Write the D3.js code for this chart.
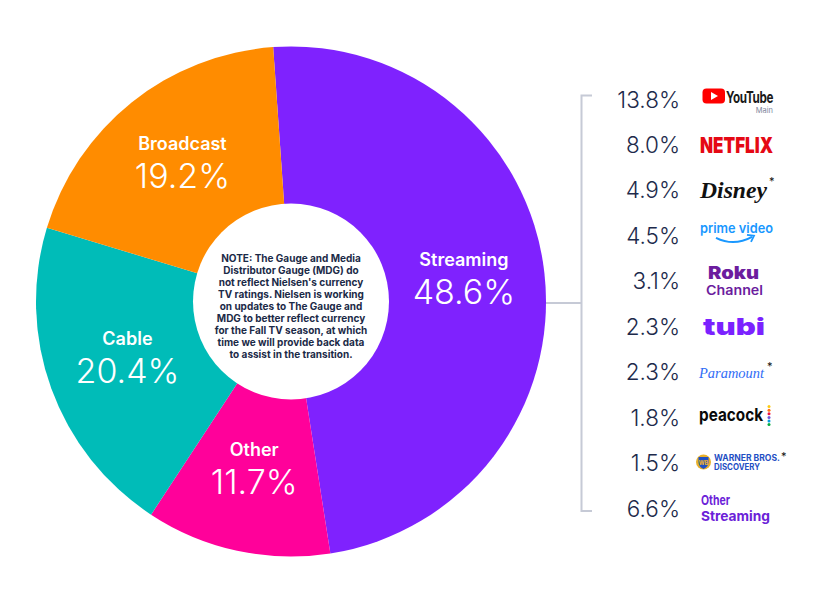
<!DOCTYPE html>
<html lang="en">
<head>
<meta charset="utf-8">
<title>The Gauge</title>
<script src="https://cdn.jsdelivr.net/npm/d3@7"></script>
<style>
  body { margin: 0; background: #fff; }
  svg { display: block; font-family: Inter, "Noto Sans", sans-serif; }
</style>
</head>
<body>
<div id="chart"></div>
<script>
// share of TV viewing by category
var categories = ["Streaming", "Other", "Cable", "Broadcast"];
var shares = [48.6, 11.7, 20.4, 19.2];
var sliceColors = ["#7f22fe", "#ff019a", "#00bcb8", "#ff8c00"];

// streaming breakdown (right column)
var services = ["YouTube", "Netflix", "Disney", "Prime Video", "Roku Channel",
                "Tubi", "Paramount", "Peacock", "Warner Bros. Discovery", "Other Streaming"];
var serviceShares = [13.8, 8.0, 4.9, 4.5, 3.1, 2.3, 2.3, 1.8, 1.5, 6.6];

var noteLines = [
  "NOTE: The Gauge and Media",
  "Distributor Gauge (MDG) do",
  "not reflect Nielsen's currency",
  "TV ratings. Nielsen is working",
  "on updates to The Gauge and",
  "MDG to better reflect currency",
  "for the Fall TV season, at which",
  "time we will provide back data",
  "to assist in the transition."
];

var width = 822, height = 610;
var cx = 291, cy = 301.5;
var outerR = 255, innerR = 98, labelR = 174;

var svg = d3.select("#chart").append("svg")
  .attr("width", width)
  .attr("height", height);

var pieData = categories.map(function(c, i) { return {name: c, value: shares[i], color: sliceColors[i]}; });

var pie = d3.pie()
  .value(function(d) { return d.value; })
  .sort(null)
  .startAngle(-0.07)
  .endAngle(-0.07 + 2 * Math.PI);

var arc = d3.arc().innerRadius(0).outerRadius(outerR);
var labelArc = d3.arc().innerRadius(labelR).outerRadius(labelR);

var donut = svg.append("g").attr("transform", "translate(" + cx + "," + cy + ")");

var arcs = pie(pieData);

donut.selectAll("path.slice").data(arcs)
  .enter().append("path")
  .attr("class", "slice")
  .attr("d", arc)
  .attr("fill", function(d) { return d.data.color; });

// white centre with the note
donut.append("circle").attr("r", innerR).attr("fill", "#fff");

donut.append("g").selectAll("text").data(noteLines)
  .enter().append("text")
  .attr("x", 0)
  .attr("y", function(d, i) { return -40 + i * 12; })
  .attr("text-anchor", "middle")
  .attr("font-size", "10px")
  .attr("font-weight", 700)
  .attr("fill", "#1b2a47")
  .text(function(d) { return d; });

// slice labels
var lab = donut.selectAll("g.lab").data(arcs)
  .enter().append("g")
  .attr("class", "lab")
  .attr("transform", function(d) { var c = labelArc.centroid(d); return "translate(" + c[0] + "," + c[1] + ")"; });

lab.append("text")
  .attr("y", -16)
  .attr("text-anchor", "middle")
  .attr("font-size", "18px")
  .attr("font-weight", 600)
  .attr("fill", "#fff")
  .text(function(d) { return d.data.name; });

lab.append("text")
  .attr("y", 22)
  .attr("text-anchor", "middle")
  .attr("font-size", "34px")
  .attr("font-weight", 300)
  .attr("fill", "#fff")
  .text(function(d) { return d3.format(".1f")(d.data.value) + "%"; });

// bracket joining the streaming slice to the list
var y = d3.scalePoint().domain(services).range([99.5, 508.5]);

var bracket = svg.append("g")
  .attr("fill", "none")
  .attr("stroke", "#c6cad6")
  .attr("stroke-width", 2);
bracket.append("path")
  .attr("d", "M592," + (y(services[0]) - 4) + "H581.5V" + (y(services[services.length - 1]) + 2.5) + "H592");
bracket.append("line")
  .attr("x1", cx + outerR).attr("x2", 581.5)
  .attr("y1", 303).attr("y2", 303);

// right column percentages
var rows = svg.selectAll("g.row").data(services)
  .enter().append("g")
  .attr("class", "row")
  .attr("transform", function(d) { return "translate(0," + y(d) + ")"; });

rows.append("text")
  .attr("x", 680)
  .attr("y", 8)
  .attr("text-anchor", "end")
  .attr("font-size", "22.5px")
  .attr("font-weight", 300)
  .attr("fill", "#1d2a4b")
  .text(function(d, i) { return d3.format(".1f")(serviceShares[i]) + "%"; });

// service wordmarks
function txt(g, s, x, yy, size, weight, color, len, extra) {
  var t = g.append("text")
    .attr("x", x).attr("y", yy)
    .attr("font-size", size + "px")
    .attr("font-weight", weight)
    .attr("fill", color)
    .text(s);
  if (len) t.attr("textLength", len).attr("lengthAdjust", "spacingAndGlyphs");
  if (extra) extra(t);
  return t;
}
// wordmark followed by a raised asterisk; the word is sized to fit its width
function starred(g, s, x, yy, size, weight, color, len, starDx, starDy, family, style) {
  var t = g.append("text")
    .attr("x", x).attr("y", yy)
    .attr("fill", color);
  var w = t.append("tspan")
    .attr("font-size", size + "px")
    .attr("font-weight", weight)
    .attr("font-family", family || null)
    .attr("font-style", style || null)
    .text(s);
  var natural = w.node().getComputedTextLength();
  if (natural > 0) w.attr("font-size", (size * len / natural) + "px");
  t.append("tspan")
    .attr("dx", starDx).attr("dy", starDy)
    .attr("font-size", "11px")
    .attr("font-weight", 400)
    .attr("fill", "#111")
    .text("*");
  return t;
}

rows.each(function(name) {
  var g = d3.select(this);
  if (name === "YouTube") {
    g.append("rect").attr("x", 702.5).attr("y", -11).attr("width", 22.5).attr("height", 15).attr("rx", 4).attr("fill", "#ff0000");
    g.append("path").attr("d", "M711,-7.5L711,0.5L718,-3.5Z").attr("fill", "#fff");
    txt(g, "YouTube", 726, 3.5, 16, 700, "#1a1a1a", 47, function(t) { t.attr("letter-spacing", "-0.5px"); });
    txt(g, "Main", 773, 13.5, 7.5, 400, "#7d869c", null, function(t) { t.attr("text-anchor", "end"); });
  } else if (name === "Netflix") {
    txt(g, "NETFLIX", 700, 8, 22, 900, "#e50914", 73);
  } else if (name === "Disney") {
    starred(g, "Disney", 700, 8, 21, 700, "#111", 67, 2, -13, "'Liberation Serif', serif", "italic");
  } else if (name === "Prime Video") {
    txt(g, "prime video", 700, -2.5, 13.5, 600, "#1a98ff", 73);
    g.append("path").attr("d", "M716,2Q734,11 752,1").attr("fill", "none").attr("stroke", "#1a98ff").attr("stroke-width", 2);
    g.append("path").attr("d", "M747,-1L754,0L751,6").attr("fill", "none").attr("stroke", "#1a98ff").attr("stroke-width", 1.8);
  } else if (name === "Roku Channel") {
    txt(g, "Roku", 708, -2, 17, 900, "#6c1d9e", 51);
    txt(g, "Channel", 706, 14, 13, 600, "#6c1d9e", 57);
  } else if (name === "Tubi") {
    txt(g, "tubi", 703, 8, 23, 900, "#7b22ff", 62);
  } else if (name === "Paramount") {
    starred(g, "Paramount", 699, 6, 16, 400, "#2f6cf6", 65, 3, -8, "'Liberation Serif', serif", "italic");
  } else if (name === "Peacock") {
    txt(g, "peacock", 699, 3.5, 18, 700, "#0a0a0a", 64);
    var dots = ["#fccc12", "#ff7112", "#ef1541", "#6e55dc", "#069de0", "#05ac3f"];
    g.selectAll("circle.dot").data(dots).enter().append("circle")
      .attr("class", "dot")
      .attr("cx", 769).attr("cy", function(d, i) { return -11 + i * 3.6; })
      .attr("r", 1.5).attr("fill", function(d) { return d; });
  } else if (name === "Warner Bros. Discovery") {
    g.append("circle").attr("cx", 703.5).attr("cy", -1).attr("r", 7.5).attr("fill", "#e8b02a");
    g.append("path").attr("d", "M698.5,-6H708.5V-1Q708.5,4 703.5,6Q698.5,4 698.5,-1Z").attr("fill", "#1f4fc4");
    txt(g, "WB", 703.5, 1.5, 5.5, 800, "#e8b02a", null, function(t) { t.attr("text-anchor", "middle"); });
    starred(g, "WARNER BROS.", 714, -2, 8.5, 700, "#1f4fc4", 66, 1, -1);
    txt(g, "DISCOVERY", 714, 6.5, 8.5, 700, "#1f4fc4", 46);
  } else if (name === "Other Streaming") {
    txt(g, "Other", 701, -3.5, 13.5, 700, "#6b21d8", 29);
    txt(g, "Streaming", 701, 12.5, 13.5, 700, "#6b21d8", 69);
  }
});
</script>
</body>
</html>
